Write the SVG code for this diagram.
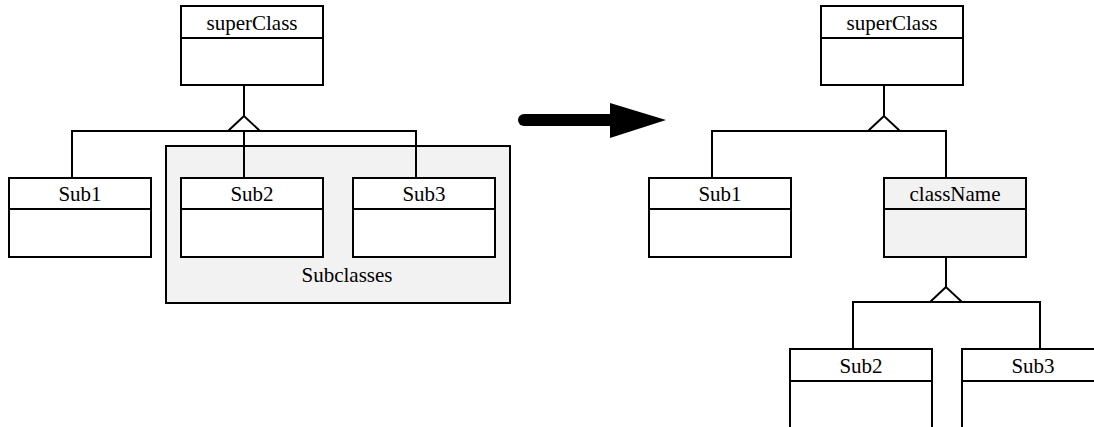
<svg xmlns="http://www.w3.org/2000/svg" width="1094" height="427" viewBox="0 0 1094 427">
<style>
.box{fill:#fff;stroke:#000;stroke-width:2}
.gray{fill:#f2f2f2;stroke:#000;stroke-width:2}
.ln{fill:none;stroke:#000;stroke-width:2}
.tri{fill:#fff;stroke:#000;stroke-width:2;stroke-linejoin:miter}
text{font-family:"Liberation Serif","Times New Roman",serif;font-size:21px;fill:#000;text-anchor:middle}
</style>
<rect width="1094" height="427" fill="#fff"/>
<g id="subclasses-group">
<rect class="gray" x="166" y="146" width="344" height="157"/>
<text x="347" y="282">Subclasses</text>
</g>
<g id="connectors">
<line class="ln" x1="244" y1="85" x2="244" y2="116"/>
<polyline class="ln" points="72,178 72,131 416,131 416,178"/>
<line class="ln" x1="244" y1="131" x2="244" y2="178"/>
<polygon class="tri" points="244,116 228,131 260,131"/>
<line class="ln" x1="884" y1="85" x2="884" y2="116"/>
<polyline class="ln" points="712,178 712,131 946,131 946,178"/>
<polygon class="tri" points="884,116 868,131 900,131"/>
<line class="ln" x1="946" y1="257" x2="946" y2="287"/>
<polyline class="ln" points="853,349 853,302 1040,302 1040,349"/>
<polygon class="tri" points="946,287 930,302 962,302"/>
<line x1="524" y1="120" x2="612" y2="120" stroke="#000" stroke-width="12" stroke-linecap="round"/>
<polygon points="610,103 666,120 610,138" fill="#000"/>
</g>
<g id="superClass-left">
<rect class="box" x="181" y="6" width="142" height="79"/>
<line class="ln" x1="181" y1="38" x2="323" y2="38"/>
<text x="252" y="30">superClass</text>
</g>
<g id="sub1-left">
<rect class="box" x="9" y="178" width="142" height="79"/>
<line class="ln" x1="9" y1="209" x2="151" y2="209"/>
<text x="80" y="201">Sub1</text>
</g>
<g id="sub2-left">
<rect class="box" x="181" y="178" width="142" height="79"/>
<line class="ln" x1="181" y1="209" x2="323" y2="209"/>
<text x="252" y="201">Sub2</text>
</g>
<g id="sub3-left">
<rect class="box" x="353" y="178" width="142" height="79"/>
<line class="ln" x1="353" y1="209" x2="495" y2="209"/>
<text x="424" y="201">Sub3</text>
</g>
<g id="superClass-right">
<rect class="box" x="821" y="6" width="142" height="79"/>
<line class="ln" x1="821" y1="38" x2="963" y2="38"/>
<text x="892" y="30">superClass</text>
</g>
<g id="sub1-right">
<rect class="box" x="649" y="178" width="142" height="79"/>
<line class="ln" x1="649" y1="209" x2="791" y2="209"/>
<text x="720" y="201">Sub1</text>
</g>
<g id="className">
<rect class="gray" x="884" y="178" width="142" height="79"/>
<line class="ln" x1="884" y1="209" x2="1026" y2="209"/>
<text x="955" y="201">className</text>
</g>
<g id="sub2-right">
<rect class="box" x="790" y="349" width="142" height="90"/>
<line class="ln" x1="790" y1="381" x2="932" y2="381"/>
<text x="861" y="373">Sub2</text>
</g>
<g id="sub3-right">
<rect class="box" x="962" y="349" width="142" height="90"/>
<line class="ln" x1="962" y1="381" x2="1104" y2="381"/>
<text x="1033" y="373">Sub3</text>
</g>
</svg>
